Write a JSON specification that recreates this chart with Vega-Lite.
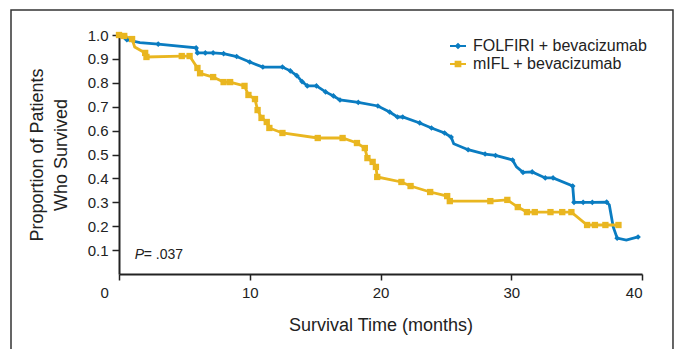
{
  "$schema": "https://vega.github.io/schema/vega-lite/v6.json",
  "width": 523,
  "height": 239,
  "autosize": {"type": "none"},
  "padding": {"left": 119, "top": 35, "right": 35, "bottom": 75},
  "background": "white",
  "config": {
    "view": {"stroke": null},
    "font": "Liberation Sans",
    "axis": {"grid": false, "domainColor": "#222", "tickColor": "#222", "labelColor": "#222", "titleColor": "#222", "labelFont": "Liberation Sans", "titleFont": "Liberation Sans", "titleFontWeight": "normal"}
  },
  "datasets": {
    "km": [
    {"g": "FOLFIRI + bevacizumab", "t": 0, "s": 1.0, "m": 1},
    {"g": "FOLFIRI + bevacizumab", "t": 0.3, "s": 0.99, "m": 0},
    {"g": "FOLFIRI + bevacizumab", "t": 0.6, "s": 0.98, "m": 1},
    {"g": "FOLFIRI + bevacizumab", "t": 1.6, "s": 0.968, "m": 0},
    {"g": "FOLFIRI + bevacizumab", "t": 3.0, "s": 0.962, "m": 1},
    {"g": "FOLFIRI + bevacizumab", "t": 5.9, "s": 0.946, "m": 1},
    {"g": "FOLFIRI + bevacizumab", "t": 6.0, "s": 0.925, "m": 1},
    {"g": "FOLFIRI + bevacizumab", "t": 6.6, "s": 0.925, "m": 1},
    {"g": "FOLFIRI + bevacizumab", "t": 7.2, "s": 0.925, "m": 1},
    {"g": "FOLFIRI + bevacizumab", "t": 8.0, "s": 0.922, "m": 1},
    {"g": "FOLFIRI + bevacizumab", "t": 9.0, "s": 0.91, "m": 1},
    {"g": "FOLFIRI + bevacizumab", "t": 10.0, "s": 0.887, "m": 1},
    {"g": "FOLFIRI + bevacizumab", "t": 11.0, "s": 0.866, "m": 1},
    {"g": "FOLFIRI + bevacizumab", "t": 12.5, "s": 0.866, "m": 1},
    {"g": "FOLFIRI + bevacizumab", "t": 13.1, "s": 0.85, "m": 1},
    {"g": "FOLFIRI + bevacizumab", "t": 13.6, "s": 0.83, "m": 1},
    {"g": "FOLFIRI + bevacizumab", "t": 14.0, "s": 0.805, "m": 1},
    {"g": "FOLFIRI + bevacizumab", "t": 14.4, "s": 0.787, "m": 1},
    {"g": "FOLFIRI + bevacizumab", "t": 15.1, "s": 0.787, "m": 1},
    {"g": "FOLFIRI + bevacizumab", "t": 15.8, "s": 0.762, "m": 1},
    {"g": "FOLFIRI + bevacizumab", "t": 16.4, "s": 0.745, "m": 1},
    {"g": "FOLFIRI + bevacizumab", "t": 16.9, "s": 0.728, "m": 1},
    {"g": "FOLFIRI + bevacizumab", "t": 18.3, "s": 0.718, "m": 1},
    {"g": "FOLFIRI + bevacizumab", "t": 19.8, "s": 0.703, "m": 1},
    {"g": "FOLFIRI + bevacizumab", "t": 20.7, "s": 0.678, "m": 1},
    {"g": "FOLFIRI + bevacizumab", "t": 21.3, "s": 0.657, "m": 1},
    {"g": "FOLFIRI + bevacizumab", "t": 21.7, "s": 0.657, "m": 1},
    {"g": "FOLFIRI + bevacizumab", "t": 23.0, "s": 0.632, "m": 1},
    {"g": "FOLFIRI + bevacizumab", "t": 23.9, "s": 0.611, "m": 1},
    {"g": "FOLFIRI + bevacizumab", "t": 24.9, "s": 0.59, "m": 1},
    {"g": "FOLFIRI + bevacizumab", "t": 25.4, "s": 0.573, "m": 1},
    {"g": "FOLFIRI + bevacizumab", "t": 25.6, "s": 0.545, "m": 0},
    {"g": "FOLFIRI + bevacizumab", "t": 26.7, "s": 0.52, "m": 1},
    {"g": "FOLFIRI + bevacizumab", "t": 28.0, "s": 0.502, "m": 1},
    {"g": "FOLFIRI + bevacizumab", "t": 28.8, "s": 0.496, "m": 1},
    {"g": "FOLFIRI + bevacizumab", "t": 30.1, "s": 0.477, "m": 1},
    {"g": "FOLFIRI + bevacizumab", "t": 30.4, "s": 0.448, "m": 0},
    {"g": "FOLFIRI + bevacizumab", "t": 30.9, "s": 0.425, "m": 1},
    {"g": "FOLFIRI + bevacizumab", "t": 31.6, "s": 0.427, "m": 1},
    {"g": "FOLFIRI + bevacizumab", "t": 32.6, "s": 0.402, "m": 1},
    {"g": "FOLFIRI + bevacizumab", "t": 33.2, "s": 0.402, "m": 1},
    {"g": "FOLFIRI + bevacizumab", "t": 34.7, "s": 0.368, "m": 1},
    {"g": "FOLFIRI + bevacizumab", "t": 34.8, "s": 0.3, "m": 1},
    {"g": "FOLFIRI + bevacizumab", "t": 35.5, "s": 0.3, "m": 1},
    {"g": "FOLFIRI + bevacizumab", "t": 36.2, "s": 0.3, "m": 1},
    {"g": "FOLFIRI + bevacizumab", "t": 37.3, "s": 0.301, "m": 1},
    {"g": "FOLFIRI + bevacizumab", "t": 37.5, "s": 0.289, "m": 0},
    {"g": "FOLFIRI + bevacizumab", "t": 37.8, "s": 0.197, "m": 0},
    {"g": "FOLFIRI + bevacizumab", "t": 38.1, "s": 0.15, "m": 1},
    {"g": "FOLFIRI + bevacizumab", "t": 38.8, "s": 0.142, "m": 0},
    {"g": "FOLFIRI + bevacizumab", "t": 39.7, "s": 0.155, "m": 1},
    {"g": "mIFL + bevacizumab", "t": 0, "s": 1.0, "m": 1},
    {"g": "mIFL + bevacizumab", "t": 0.4, "s": 0.996, "m": 1},
    {"g": "mIFL + bevacizumab", "t": 1.0, "s": 0.983, "m": 1},
    {"g": "mIFL + bevacizumab", "t": 1.2, "s": 0.95, "m": 0},
    {"g": "mIFL + bevacizumab", "t": 2.0, "s": 0.925, "m": 1},
    {"g": "mIFL + bevacizumab", "t": 2.1, "s": 0.908, "m": 1},
    {"g": "mIFL + bevacizumab", "t": 4.8, "s": 0.912, "m": 1},
    {"g": "mIFL + bevacizumab", "t": 5.4, "s": 0.912, "m": 1},
    {"g": "mIFL + bevacizumab", "t": 5.7, "s": 0.887, "m": 0},
    {"g": "mIFL + bevacizumab", "t": 6.0, "s": 0.862, "m": 1},
    {"g": "mIFL + bevacizumab", "t": 6.2, "s": 0.84, "m": 1},
    {"g": "mIFL + bevacizumab", "t": 7.2, "s": 0.824, "m": 1},
    {"g": "mIFL + bevacizumab", "t": 8.0, "s": 0.803, "m": 1},
    {"g": "mIFL + bevacizumab", "t": 8.5, "s": 0.803, "m": 1},
    {"g": "mIFL + bevacizumab", "t": 9.6, "s": 0.787, "m": 1},
    {"g": "mIFL + bevacizumab", "t": 9.9, "s": 0.749, "m": 1},
    {"g": "mIFL + bevacizumab", "t": 10.4, "s": 0.732, "m": 1},
    {"g": "mIFL + bevacizumab", "t": 10.6, "s": 0.686, "m": 1},
    {"g": "mIFL + bevacizumab", "t": 10.9, "s": 0.653, "m": 1},
    {"g": "mIFL + bevacizumab", "t": 11.3, "s": 0.636, "m": 1},
    {"g": "mIFL + bevacizumab", "t": 11.5, "s": 0.611, "m": 1},
    {"g": "mIFL + bevacizumab", "t": 12.5, "s": 0.59, "m": 1},
    {"g": "mIFL + bevacizumab", "t": 15.2, "s": 0.569, "m": 1},
    {"g": "mIFL + bevacizumab", "t": 17.1, "s": 0.569, "m": 1},
    {"g": "mIFL + bevacizumab", "t": 18.2, "s": 0.548, "m": 1},
    {"g": "mIFL + bevacizumab", "t": 18.8, "s": 0.527, "m": 1},
    {"g": "mIFL + bevacizumab", "t": 19.0, "s": 0.485, "m": 1},
    {"g": "mIFL + bevacizumab", "t": 19.4, "s": 0.469, "m": 1},
    {"g": "mIFL + bevacizumab", "t": 19.65, "s": 0.448, "m": 1},
    {"g": "mIFL + bevacizumab", "t": 19.75, "s": 0.406, "m": 1},
    {"g": "mIFL + bevacizumab", "t": 21.6, "s": 0.385, "m": 1},
    {"g": "mIFL + bevacizumab", "t": 22.3, "s": 0.368, "m": 1},
    {"g": "mIFL + bevacizumab", "t": 23.8, "s": 0.343, "m": 1},
    {"g": "mIFL + bevacizumab", "t": 25.1, "s": 0.326, "m": 1},
    {"g": "mIFL + bevacizumab", "t": 25.3, "s": 0.305, "m": 1},
    {"g": "mIFL + bevacizumab", "t": 28.4, "s": 0.305, "m": 1},
    {"g": "mIFL + bevacizumab", "t": 29.7, "s": 0.31, "m": 1},
    {"g": "mIFL + bevacizumab", "t": 30.5, "s": 0.28, "m": 1},
    {"g": "mIFL + bevacizumab", "t": 31.2, "s": 0.259, "m": 1},
    {"g": "mIFL + bevacizumab", "t": 31.8, "s": 0.259, "m": 1},
    {"g": "mIFL + bevacizumab", "t": 33.0, "s": 0.259, "m": 1},
    {"g": "mIFL + bevacizumab", "t": 33.9, "s": 0.259, "m": 1},
    {"g": "mIFL + bevacizumab", "t": 34.6, "s": 0.259, "m": 1},
    {"g": "mIFL + bevacizumab", "t": 35.8, "s": 0.205, "m": 1},
    {"g": "mIFL + bevacizumab", "t": 36.4, "s": 0.205, "m": 1},
    {"g": "mIFL + bevacizumab", "t": 37.2, "s": 0.205, "m": 1},
    {"g": "mIFL + bevacizumab", "t": 38.2, "s": 0.205, "m": 1}
    ],
    "frame": [{"t": -8.26, "t2": 42.37, "s": 1.105, "s2": -0.5}],
    "note": [{"t": 1.2, "s": 0.08, "a": "P", "b": "= .037"}]
  },
  "encoding": {
    "x": {"field": "t", "type": "quantitative", "scale": {"domain": [0, 40], "nice": false},
      "axis": {"values": [0, 10, 20, 30, 40], "tickSize": 6, "tickWidth": 1.5, "domainWidth": 2, "labelFontSize": 15, "labelPadding": 5,
        "labelOffset": {"condition": {"test": "datum.value == 0", "value": -19}, "value": 0},
        "title": "Survival Time (months)", "titleFontSize": 18, "titlePadding": 16}},
    "y": {"field": "s", "type": "quantitative", "scale": {"domain": [0, 1], "nice": false},
      "axis": {"values": [0.1, 0.2, 0.3, 0.4, 0.5, 0.6, 0.7, 0.8, 0.9, 1.0], "format": ".1f", "tickSize": 7, "tickWidth": 1.5, "domainWidth": 2, "labelFontSize": 15, "labelPadding": 4,
        "title": ["Proportion of Patients", "Who Survived"], "titleFontSize": 18, "titleLineHeight": 24, "titlePadding": 17}}
  },
  "layer": [
    {
      "data": {"name": "km"},
      "mark": {"type": "line", "strokeWidth": 2.8},
      "encoding": {
        "color": {"field": "g", "type": "nominal", "scale": {"domain": ["FOLFIRI + bevacizumab", "mIFL + bevacizumab"], "range": ["#0a7cc1", "#e9b620"]},
          "legend": {"orient": "none", "legendX": 331, "legendY": 3, "title": null, "labelFontSize": 16, "labelColor": "#222", "labelFont": "Liberation Sans", "labelLimit": 400, "labelOffset": 7, "rowPadding": 2, "symbolSize": 256, "symbolStrokeWidth": 0,
            "encode": {"symbols": {"update": {
              "shape": {"signal": "datum.value === 'FOLFIRI + bevacizumab' ? 'M-1,-0.12H1V0.12H-1Z M0,-0.42L0.42,0L0,0.42L-0.42,0Z' : 'M-1,-0.14H1V0.14H-1Z M-0.42,-0.42H0.42V0.42H-0.42Z'"},
              "fill": {"signal": "scale('color', datum.value)"},
              "fillOpacity": {"value": 1},
              "strokeWidth": {"value": 0}
            }}}}}
      }
    },
    {
      "data": {"name": "frame"},
      "mark": {"type": "rect", "fill": "white", "fillOpacity": 0, "stroke": "#333", "strokeWidth": 1.5, "clip": false},
      "encoding": {
        "x2": {"field": "t2"},
        "y2": {"field": "s2"}
      }
    },
    {
      "data": {"name": "km"},
      "transform": [{"filter": "datum.m == 1 && datum.g == 'FOLFIRI + bevacizumab'"}],
      "mark": {"type": "point", "filled": true, "opacity": 1, "size": 32, "shape": "diamond"},
      "encoding": {"color": {"field": "g", "type": "nominal"}}
    },
    {
      "data": {"name": "km"},
      "transform": [{"filter": "datum.m == 1 && datum.g == 'mIFL + bevacizumab'"}],
      "mark": {"type": "point", "filled": true, "opacity": 1, "size": 40, "shape": "square"},
      "encoding": {"color": {"field": "g", "type": "nominal"}}
    },
    {
      "data": {"name": "note"},
      "mark": {"type": "text", "align": "left", "baseline": "middle", "fontSize": 14, "fontStyle": "italic", "color": "#222"},
      "encoding": {"text": {"field": "a"}}
    },
    {
      "data": {"name": "note"},
      "mark": {"type": "text", "align": "left", "baseline": "middle", "fontSize": 14, "dx": 9, "color": "#222"},
      "encoding": {"text": {"field": "b"}}
    }
  ]
}
